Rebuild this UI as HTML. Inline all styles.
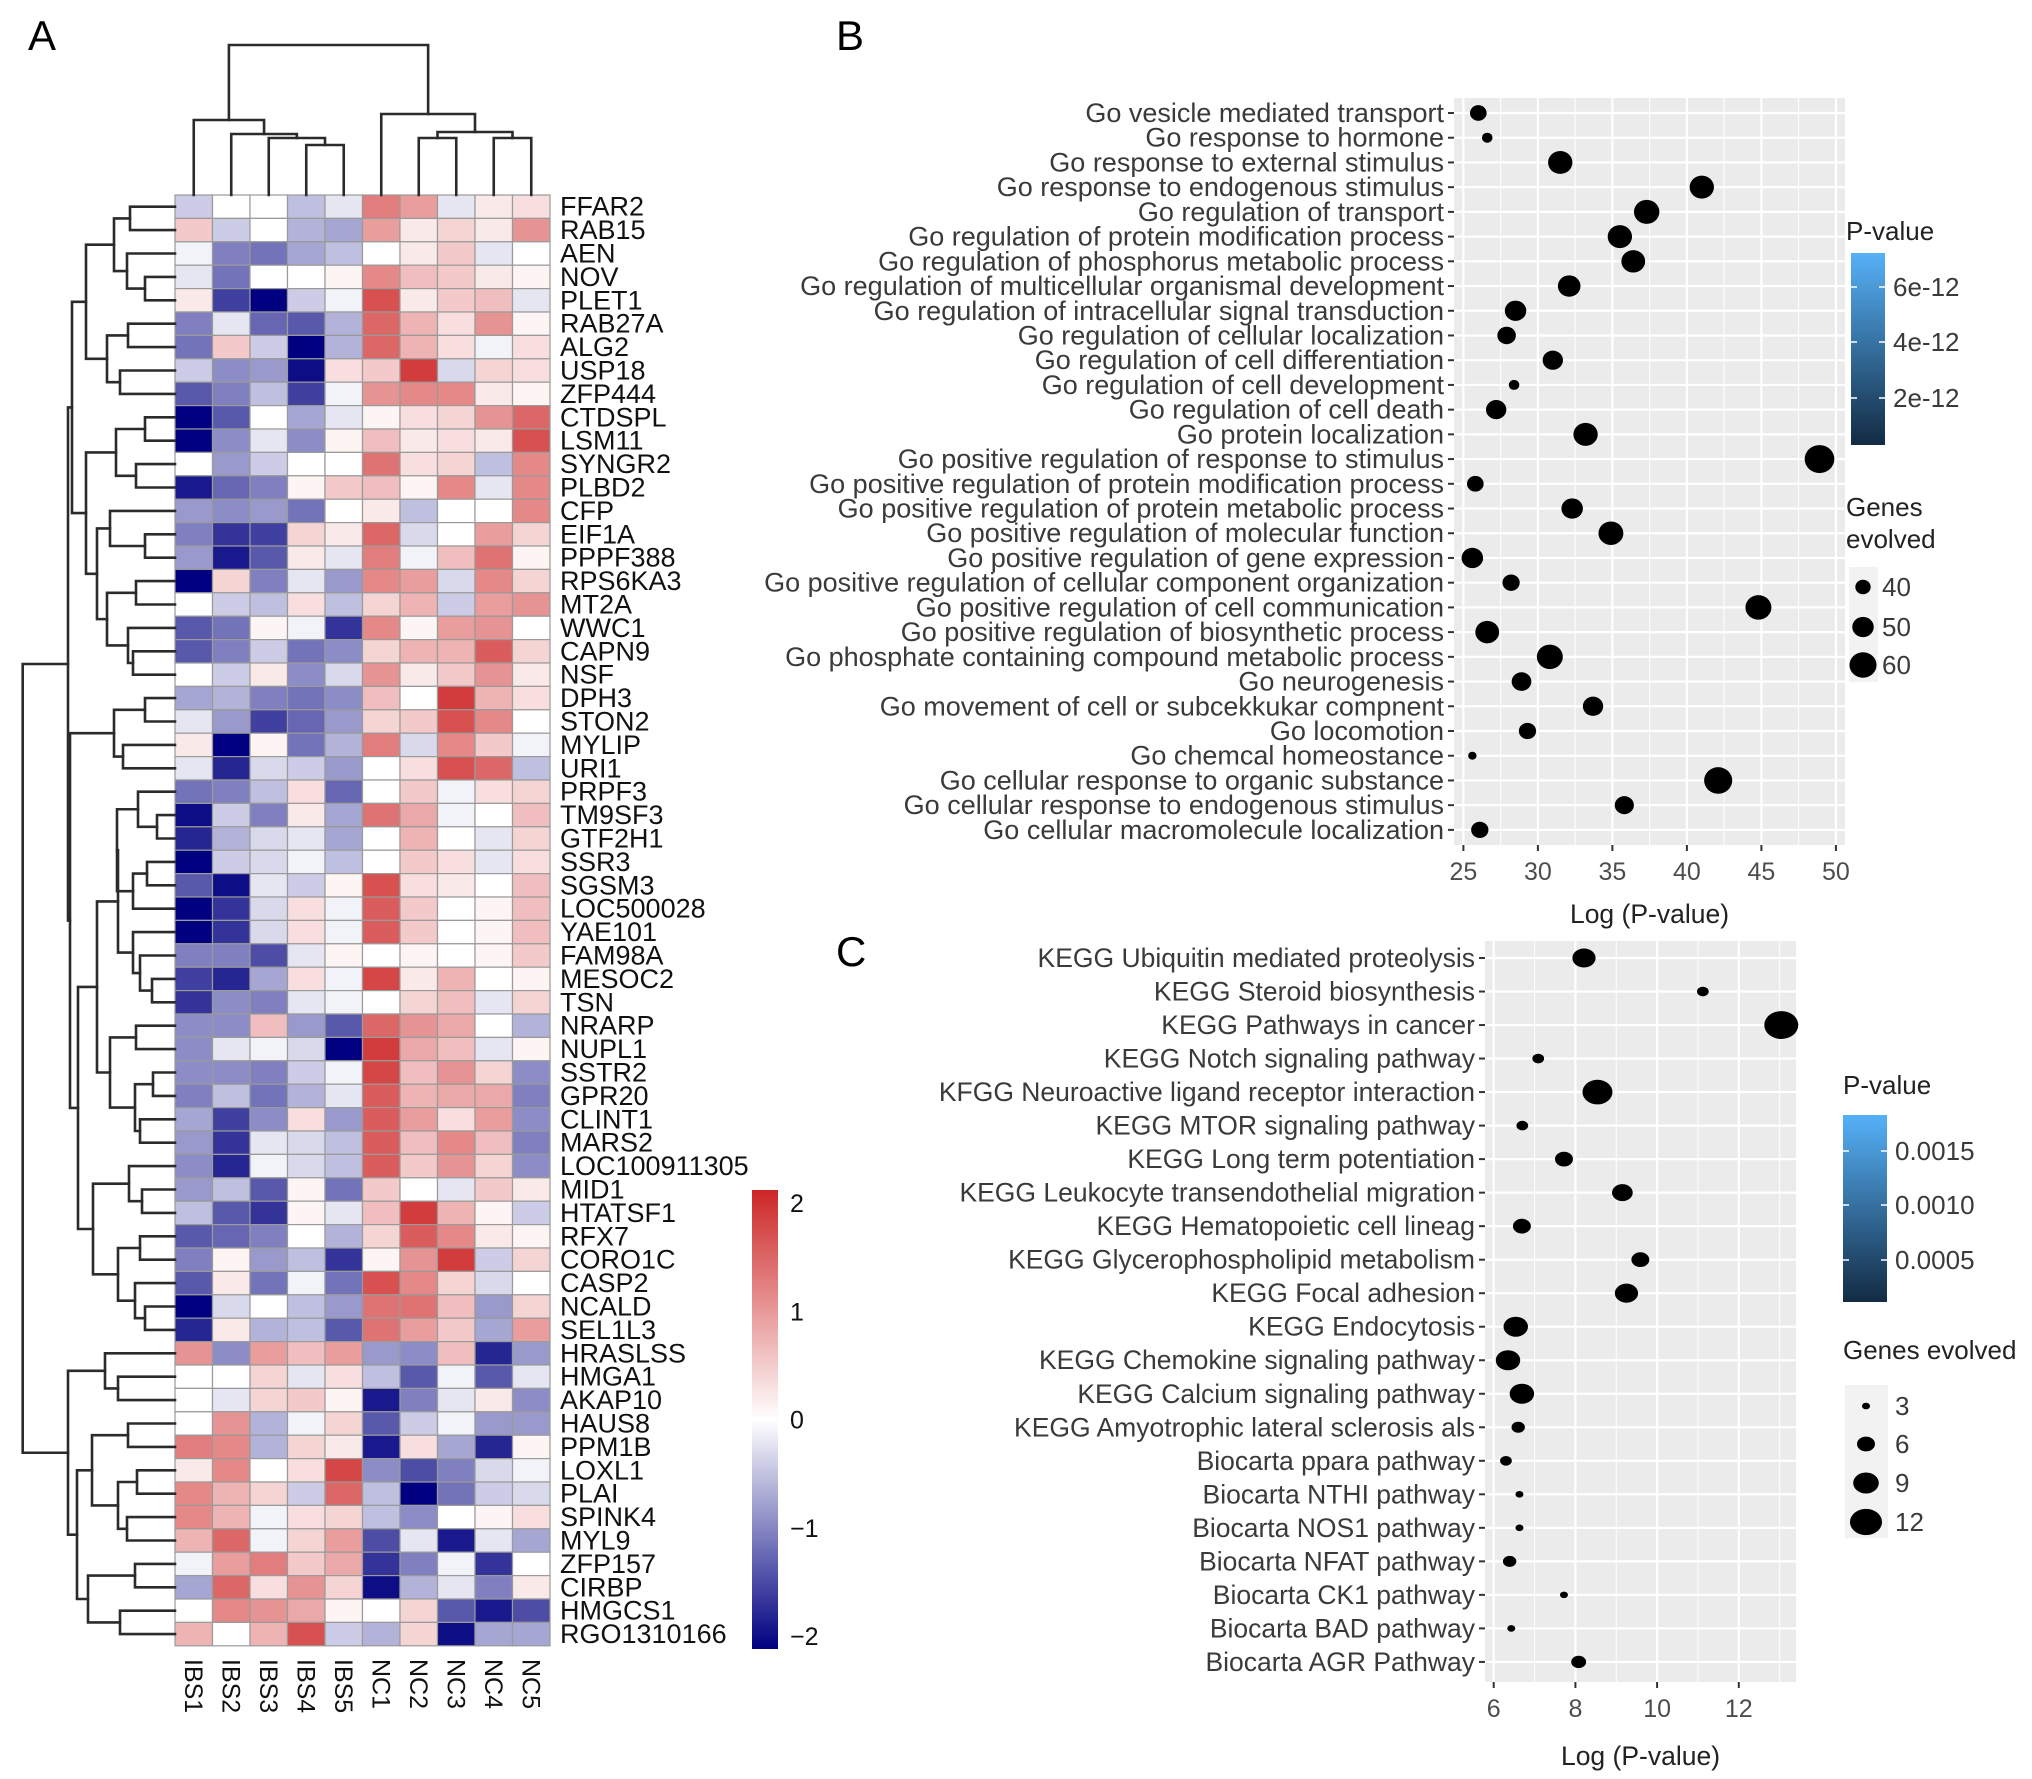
<!DOCTYPE html>
<html><head><meta charset="utf-8"><title>Heatmap and enrichment plots</title>
<style>
html,body{margin:0;padding:0;background:#fff;}
svg{display:block;font-family:"Liberation Sans",Arial,sans-serif;}
</style></head>
<body>
<svg id="fig" width="2032" height="1779" viewBox="0 0 2032 1779" xmlns="http://www.w3.org/2000/svg">
<defs>
<linearGradient id="hmGrad" x1="0" y1="0" x2="0" y2="1">
<stop offset="0" stop-color="#CD2626"/><stop offset="0.5" stop-color="#ffffff"/><stop offset="1" stop-color="#000080"/>
</linearGradient>
<linearGradient id="pvGrad" x1="0" y1="1" x2="0" y2="0">
<stop offset="0" stop-color="#132B43"/><stop offset="1" stop-color="#56B1F7"/>
</linearGradient>
</defs>
<text x="28" y="50" font-size="42">A</text>
<text x="836" y="50" font-size="42">B</text>
<text x="836" y="966" font-size="42">C</text>
<g id="heat"></g>
<g id="panelB"></g>
<g id="panelC"></g>
</svg>
<script>
// ---------- Heatmap data ----------
const samples = ["IBS1","IBS2","IBS3","IBS4","IBS5","NC1","NC2","NC3","NC4","NC5"];
const genes = ["FFAR2","RAB15","AEN","NOV","PLET1","RAB27A","ALG2","USP18","ZFP444","CTDSPL","LSM11","SYNGR2","PLBD2","CFP","EIF1A","PPPF388","RPS6KA3","MT2A","WWC1","CAPN9","NSF","DPH3","STON2","MYLIP","URI1","PRPF3","TM9SF3","GTF2H1","SSR3","SGSM3","LOC500028","YAE101","FAM98A","MESOC2","TSN","NRARP","NUPL1","SSTR2","GPR20","CLINT1","MARS2","LOC100911305","MID1","HTATSF1","RFX7","CORO1C","CASP2","NCALD","SEL1L3","HRASLSS","HMGA1","AKAP10","HAUS8","PPM1B","LOXL1","PLAI","SPINK4","MYL9","ZFP157","CIRBP","HMGCS1","RGO1310166"];
const exprValues = [
[-0.4,0,0,-0.5,-0.2,1.2,0.9,-0.2,0.2,0.3],
[0.5,-0.4,0,-0.6,-0.7,0.9,0.2,0.4,0.2,1.0],
[-0.1,-1.0,-1.1,-0.7,-0.5,0,0.2,0.5,-0.2,0],
[-0.2,-1.1,0,0,0.1,1.1,0.6,0.5,0.2,0.1],
[0.2,-1.5,-2.0,-0.4,-0.1,1.6,0.2,0.5,0.6,-0.2],
[-1.0,-0.2,-1.2,-1.3,-0.6,1.4,0.7,0.3,1.0,0.1],
[-1.1,0.5,-0.4,-2.1,-0.6,1.4,0.7,0.3,-0.1,0.3],
[-0.4,-0.9,-0.8,-1.9,0.3,0.5,1.8,-0.3,0.4,0.3],
[-1.3,-1.0,-0.5,-1.5,-0.1,1.0,1.1,1.1,0.2,0.1],
[-2.0,-1.3,0,-0.7,-0.2,0.1,0.3,0.4,1.0,1.4],
[-2.0,-0.9,-0.2,-0.9,0.1,0.6,0.2,0.3,0.2,1.6],
[0,-0.8,-0.4,0,0,1.3,0.3,0.4,-0.5,1.1],
[-1.8,-1.2,-1.0,0.1,0.5,0.6,0.1,1.1,-0.2,1.1],
[-0.8,-0.9,-0.8,-1.1,0,0.2,-0.5,0,0,1.1],
[-1.0,-1.6,-1.5,0.4,0.2,1.4,-0.3,0,0.9,0.4],
[-0.8,-1.8,-1.3,0.2,-0.2,1.2,-0.1,0.6,1.3,0.1],
[-2.2,0.4,-1.0,-0.2,-0.8,1.1,0.9,-0.3,1.1,0.4],
[0,-0.4,-0.5,0.3,-0.5,0.4,0.7,-0.4,0.9,1.0],
[-1.3,-1.1,0.1,-0.1,-1.6,1.1,0.1,0.9,1.0,0],
[-1.3,-1.0,-0.4,-1.1,-0.9,0.4,0.7,0.7,1.5,0.4],
[0,-0.4,0.2,-0.9,-0.3,1.0,0.2,0.5,1.0,0.2],
[-0.7,-0.6,-1.0,-1.1,-0.9,0.6,0,1.8,0.7,0.3],
[-0.2,-0.8,-1.5,-1.2,-0.8,0.4,0.5,1.6,1.1,0],
[0.2,-2.2,0.1,-1.1,-0.6,1.2,-0.3,1.1,0.5,-0.1],
[-0.2,-1.7,-0.3,-0.4,-0.8,0,0.3,1.6,1.4,-0.5],
[-1.1,-1.0,-0.5,0.3,-1.2,0,0.5,-0.1,0.3,0.4],
[-1.9,-0.4,-1.0,0.2,-0.7,1.3,0.8,-0.1,0,0.6],
[-1.7,-0.6,-0.3,-0.2,-0.7,0,0.7,0,-0.2,0.4],
[-2.2,-0.4,-0.3,-0.1,-0.5,0,0.5,0.3,-0.2,0.3],
[-1.3,-1.9,-0.2,-0.4,0.1,1.6,0.3,0.2,0,0.6],
[-2.0,-1.6,-0.3,0.3,-0.1,1.5,0.5,0,0.1,0.6],
[-2.0,-1.6,-0.3,0.3,-0.1,1.5,0.5,0,0.1,0.6],
[-1.0,-1.0,-1.4,-0.2,0.1,0,0.1,0,0.1,0.5],
[-1.5,-1.7,-0.7,0.3,-0.1,1.7,0.2,0.7,0,0.1],
[-1.6,-0.9,-1.0,-0.2,-0.1,0,0.4,0.6,-0.2,0.4],
[-0.9,-0.9,0.6,-0.8,-1.3,1.4,1.0,0.8,0,-0.6],
[-0.9,-0.2,-0.1,-0.3,-2.2,1.8,0.8,0.6,-0.2,0.1],
[-0.9,-0.9,-1.0,-0.4,-0.1,1.7,0.6,1.0,0.4,-0.9],
[-1.0,-0.5,-1.1,-0.6,-0.2,1.5,0.7,0.8,0.8,-1.0],
[-0.7,-1.5,-0.9,0.3,-0.8,1.5,0.9,0.3,0.9,-0.9],
[-0.8,-1.6,-0.2,-0.3,-0.5,1.5,0.6,1.1,0.6,-1.0],
[-0.9,-1.7,-0.1,-0.3,-0.5,1.5,0.5,1.0,0.4,-0.9],
[-0.8,-0.5,-1.3,0.1,-1.1,0.5,0,-0.2,0.5,0.2],
[-0.5,-1.3,-1.6,0.1,-0.2,0.6,1.8,0.7,0.1,-0.4],
[-1.3,-1.2,-1.0,0,-0.6,0.4,1.5,1.1,0.2,0.1],
[-1.0,0.1,-0.8,-0.5,-1.6,0.1,1.0,1.8,-0.4,0.4],
[-1.3,0.2,-1.1,-0.1,-1.1,1.6,1.1,0.4,-0.3,0],
[-2.2,-0.3,0,-0.5,-0.8,1.3,1.3,0.6,-0.8,0.4],
[-1.7,0.2,-0.6,-0.5,-1.3,1.3,0.9,0.5,-0.7,0.9],
[1.0,-0.9,0.9,0.6,0.9,-0.8,-0.9,0.6,-1.7,-0.8],
[0,0,0.4,-0.2,0.3,-0.5,-1.3,-0.1,-1.3,-0.2],
[0,-0.2,0.4,0.5,0.1,-1.8,-1.0,-0.2,0.2,-0.9],
[0,1.0,-0.6,-0.1,0.4,-1.3,-0.4,-0.1,-0.8,-0.8],
[1.2,1.1,-0.6,0.4,0.2,-1.8,0.3,-0.7,-1.7,0.1],
[0.2,1.1,0,0.3,1.7,-0.9,-1.4,-1.0,-0.3,-0.1],
[1.1,0.7,0.4,-0.4,1.4,-0.5,-2.0,-1.1,-0.4,-0.3],
[1.1,0.7,-0.1,0.3,0.4,-0.5,-0.9,0,0.1,0.3],
[0.7,1.4,-0.1,0.4,0.9,-1.4,-0.2,-1.8,-0.2,-0.7],
[-0.1,0.9,1.2,0.5,0.8,-1.6,-1.0,-0.1,-1.6,0],
[-0.7,1.4,0.3,1.0,0.4,-1.9,-0.6,-0.2,-1.0,0.2],
[0,1.1,1.0,0.8,0.1,0,0.4,-1.3,-1.8,-1.4],
[0.7,0,0.7,1.6,-0.4,-0.6,0.4,-1.9,-0.7,-0.7]
];
const colorTicks = [2,1,0,-1,-2];
// dendrogram merge trees: [left, right, pixel-level of merge]
const colTree = [[0,[1,[2,[3,4,145],138],134],120],[5,[[6,7,138],[8,9,138],132],114],45];
const rowTree = (function(){
  const A=[[0,1,130],[2,[3,4,145],127],114], B=[[5,6,128],[7,8,120],107], C1=[A,B,86];
  const D=[[9,10,145],[11,12,136],116], E=[13,[14,15,145],110];
  const F=[[16,17,136],[18,[19,20,133],128],107], H=[D,[E,F,97],86], U1=[C1,H,72];
  const X1=[[21,22,145],[23,24,123],114];
  const Y1=[[25,[26,27,157],138],[[28,29,147],30,133],117], Y2=[31,[32,[33,34,152],140],133];
  const Z=[[35,36,136],[[37,38,153],[39,40,140],135],110], YZ=[[Y1,Y2,118],Z,97];
  const W=[[41,[42,43,142],129],[[44,45,140],[46,[47,48,145],135],118],93];
  const X=[X1,[YZ,W,78],70], Upper=[U1,X,68];
  const L=[[49,[50,51,118],105],[[[52,53,128],[[54,55,137],[56,57,127],118],92],[[58,59,135],[60,61,120],88],77],68];
  return [Upper,L,22.7];
})();

// ---------- GO data ----------
const goTerms = ["Go vesicle mediated transport","Go response to hormone","Go response to external stimulus","Go response to endogenous stimulus","Go regulation of transport","Go regulation of protein modification process","Go regulation of phosphorus metabolic process","Go regulation of multicellular organismal development","Go regulation of intracellular signal transduction","Go regulation of cellular localization","Go regulation of cell differentiation","Go regulation of cell development","Go regulation of cell death","Go protein localization","Go positive regulation of response to stimulus","Go positive regulation of protein modification process","Go positive regulation of protein metabolic process","Go positive regulation of molecular function","Go positive regulation of gene expression","Go positive regulation of cellular component organization","Go positive regulation of cell communication","Go positive regulation of biosynthetic process","Go phosphate containing compound metabolic process","Go neurogenesis","Go movement of cell or subcekkukar compnent","Go locomotion","Go chemcal homeostance","Go cellular response to organic substance","Go cellular response to endogenous stimulus","Go cellular macromolecule localization"];
const goLogP = [26.0,26.6,31.5,41.0,37.3,35.5,36.4,32.1,28.5,27.9,31.0,28.4,27.2,33.2,48.9,25.8,32.3,34.9,25.6,28.2,44.8,26.6,30.8,28.9,33.7,29.3,25.6,42.1,35.8,26.1];
const goGenes = [42,33,55,55,57,55,54,52,50,45,48,33,48,55,65,42,50,56,50,43,58,54,58,47,48,43,30,62,46,43];
const goXTicks = [25,30,35,40,45,50];
const goSizeLegend = [40,50,60];
const goPvTicks = ["6e-12","4e-12","2e-12"];

// ---------- KEGG data ----------
const keggTerms = ["KEGG Ubiquitin mediated proteolysis","KEGG Steroid biosynthesis","KEGG Pathways in cancer","KEGG Notch signaling pathway","KFGG Neuroactive ligand receptor interaction","KEGG MTOR signaling pathway","KEGG Long term potentiation","KEGG Leukocyte transendothelial migration","KEGG Hematopoietic cell lineag","KEGG Glycerophospholipid metabolism","KEGG Focal adhesion","KEGG Endocytosis","KEGG Chemokine signaling pathway","KEGG Calcium signaling pathway","KEGG Amyotrophic lateral sclerosis als","Biocarta ppara pathway","Biocarta NTHI pathway","Biocarta NOS1 pathway","Biocarta NFAT pathway","Biocarta CK1 pathway","Biocarta BAD pathway","Biocarta AGR Pathway"];
const keggLogP = [8.21,11.12,13.04,7.09,8.54,6.70,7.72,9.15,6.69,9.59,9.25,6.54,6.35,6.69,6.60,6.30,6.63,6.63,6.39,7.72,6.43,8.08];
const keggGenes = [8,4,13,4,11,4,6,7,6,6,8,8.5,8.5,8.5,4.5,4,3,3,4.5,3,3,5];
const keggXTicks = [6,8,10,12];
const keggSizeLegend = [3,6,9,12];
const keggPvTicks = ["0.0015","0.0010","0.0005"];

const NS = "http://www.w3.org/2000/svg";
function mk(tag, attrs, parent){
  const e = document.createElementNS(NS, tag);
  for (const k in attrs) e.setAttribute(k, attrs[k]);
  parent.appendChild(e);
  return e;
}

// ---------- Heatmap ----------
(function(){
  const g = document.getElementById('heat');
  const x0 = 175, y0 = 195, cw = 37.5, rh = 23.4;
  const colX = i => x0 + cw * i;
  const rowY = i => y0 + rh * i;
  function col(v){
    v = Math.max(-2, Math.min(2, v));
    let r,gg,b;
    if (v >= 0){ const t = v/2; r = 255+(205-255)*t; gg = 255+(38-255)*t; b = 255+(38-255)*t; }
    else { const t = -v/2; r = 255*(1-t); gg = 255*(1-t); b = 255+(128-255)*t; }
    return `rgb(${Math.round(r)},${Math.round(gg)},${Math.round(b)})`;
  }
  exprValues.forEach((row, i) => {
    row.forEach((v, j) => {
      const c = mk('rect', {x: colX(j), y: rowY(i), width: cw, height: rh, fill: col(v), stroke: '#9a9a9a', 'stroke-width': 1.2}, g);
      
      
    });
  });
  genes.forEach((name, i) => {
    const t = mk('text', {x: 560, y: rowY(i) + rh/2 + 9, 'font-size': 27, fill: '#111'}, g);
    t.textContent = name;
    
    
  });
  samples.forEach((name, j) => {
    const cx = colX(j) + cw/2;
    const t = mk('text', {x: cx - 9, y: 1659, 'font-size': 25, fill: '#111', transform: `rotate(90 ${cx-9} 1659)`}, g);
    t.textContent = name;
    
    
  });
  const dg = mk('g', {stroke: '#2b2b2b', 'stroke-width': 2.6, fill: 'none', 'stroke-linecap': 'square'}, g);
  
  
  function drawRow(node){
    if (typeof node === 'number') return {y: rowY(node) + rh/2, x: x0};
    const a = drawRow(node[0]), b = drawRow(node[1]), h = node[2];
    const p = mk('path', {d: `M${a.x},${a.y}H${h}V${b.y}H${b.x}`}, dg);
    
    
    return {y: (a.y + b.y)/2, x: h};
  }
  drawRow(rowTree);
  function drawCol(node){
    if (typeof node === 'number') return {x: colX(node) + cw/2, y: y0};
    const a = drawCol(node[0]), b = drawCol(node[1]), h = node[2];
    const p = mk('path', {d: `M${a.x},${a.y}V${h}H${b.x}V${b.y}`}, dg);
    
    
    return {x: (a.x + b.x)/2, y: h};
  }
  drawCol(colTree);
  const cy = v => 1419.5 - v * 108.25;
  const bar = mk('rect', {x: 752, y: cy(2.12), width: 26, height: cy(-2.12) - cy(2.12), fill: 'url(#hmGrad)'}, g);
  
  
  colorTicks.forEach(v => {
    const t = mk('text', {x: 790, y: cy(v) + 9, 'font-size': 25, fill: '#111'}, g);
    t.textContent = v < 0 ? '\u2212' + (-v) : String(v);
    
    
  });
})();

// ---------- Dot plot helper ----------
function dotPlot(cfg){
  const g = document.getElementById(cfg.id);
  const bg = mk('rect', {x: cfg.bx0, y: cfg.by0, width: cfg.bx1 - cfg.bx0, height: cfg.by1 - cfg.by0, fill: '#EBEBEB'}, g);
  
  
  for (let k = 0; k < cfg.ticks.length + 1; k++){
    const v = cfg.ticks[0] - cfg.step/2 + k*cfg.step;
    const xv = cfg.x(v);
    if (xv > cfg.bx0 && xv < cfg.bx1){
      const l = mk('line', {x1: xv, x2: xv, y1: cfg.by0, y2: cfg.by1, stroke: '#fff', 'stroke-width': 1}, g);
      
      
    }
  }
  cfg.ticks.forEach(v => {
    const xv = cfg.x(v);
    if (xv <= cfg.bx1){
      const l = mk('line', {x1: xv, x2: xv, y1: cfg.by0, y2: cfg.by1, stroke: '#fff', 'stroke-width': 2.2}, g);
      
      
    }
    const tk = mk('line', {x1: xv, x2: xv, y1: cfg.by1, y2: cfg.by1 + 6, stroke: '#333', 'stroke-width': 2}, g);
    
    
    const t = mk('text', {x: xv, y: cfg.by1 + 35, 'font-size': 25, fill: '#4D4D4D', 'text-anchor': 'middle'}, g);
    t.textContent = v;
    
    
  });
  cfg.terms.forEach((term, i) => {
    const yv = cfg.y(i);
    const l = mk('line', {x1: cfg.bx0, x2: cfg.bx1, y1: yv, y2: yv, stroke: '#fff', 'stroke-width': 2.2}, g);
    
    
    const tk = mk('line', {x1: cfg.bx0 - 6, x2: cfg.bx0, y1: yv, y2: yv, stroke: '#333', 'stroke-width': 2}, g);
    
    
    const t = mk('text', {x: cfg.bx0 - 10, y: yv + 9, 'font-size': cfg.fs, fill: '#3a3a3a', 'text-anchor': 'end'}, g);
    t.textContent = term;
    
    
  });
  cfg.terms.forEach((term, i) => {
    const d = cfg.size(cfg.genes[i]);
    const e = mk('ellipse', {cx: cfg.x(cfg.vals[i]), cy: cfg.y(i), rx: d/2*cfg.wr, ry: d/2*cfg.hr, fill: '#000'}, g);
    
    
  });
  const at = mk('text', {x: (cfg.bx0 + cfg.bx1)/2, y: cfg.titleY, 'font-size': 26.5, fill: '#222', 'text-anchor': 'middle'}, g);
  at.textContent = 'Log (P-value)';
  
  
  const L = cfg.leg;
  const pt = mk('text', {x: L.x, y: L.titleY, 'font-size': 26, fill: '#222'}, g);
  pt.textContent = 'P-value';
  
  
  const cb = mk('rect', {x: L.bx, y: L.by0, width: L.bw, height: L.by1 - L.by0, fill: 'url(#pvGrad)'}, g);
  
  
  L.labels.forEach((lab, k) => {
    const yy = L.ly[k];
    mk('line', {x1: L.bx, x2: L.bx + 6, y1: yy, y2: yy, stroke: '#fff', 'stroke-width': 1.5}, g);
    mk('line', {x1: L.bx + L.bw - 6, x2: L.bx + L.bw, y1: yy, y2: yy, stroke: '#fff', 'stroke-width': 1.5}, g);
    const t = mk('text', {x: L.bx + L.bw + 8, y: yy + 9, 'font-size': 26, fill: '#3a3a3a'}, g);
    t.textContent = lab;
    
    
  });
  L.sizeTitle.forEach((s, k) => {
    const t = mk('text', {x: L.x, y: L.sizeTitleY + k*32, 'font-size': 26, fill: '#222'}, g);
    t.textContent = s;
    
    
  });
  const kb = mk('rect', {x: L.kx0, y: L.ky0, width: L.kx1 - L.kx0, height: L.ky1 - L.ky0, fill: '#F2F2F2'}, g);
  
  
  cfg.sizeLegend.forEach((v, k) => {
    const d = cfg.size(v);
    const e = mk('ellipse', {cx: L.keyX, cy: L.keyY[k], rx: d/2*cfg.wr, ry: d/2*cfg.hr, fill: '#000'}, g);
    
    
    const t = mk('text', {x: L.keyLabelX, y: L.keyY[k] + 9, 'font-size': 26, fill: '#3a3a3a'}, g);
    t.textContent = v;
    
    
  });
}

dotPlot({
  id: 'panelB', terms: goTerms, vals: goLogP, genes: goGenes, ticks: goXTicks, step: 5, fs: 27,
  sizeLegend: goSizeLegend,
  x: v => 1463.4 + (v - 25) * 14.9, y: i => 113 + i * 24.72,
  size: g => 7.75 * Math.sqrt(g) - 34.5, wr: 1.06, hr: 1.0,
  bx0: 1454, bx1: 1845, by0: 98, by1: 845, titleY: 923,
  leg: {x: 1846, titleY: 240, bx: 1851, bw: 34, by0: 253, by1: 445, labels: goPvTicks, ly: [287, 342, 398],
        sizeTitle: ['Genes', 'evolved'], sizeTitleY: 516,
        kx0: 1849, kx1: 1878, ky0: 567, ky1: 682, keyX: 1863, keyY: [587, 627, 665], keyLabelX: 1882}
});

dotPlot({
  id: 'panelC', terms: keggTerms, vals: keggLogP, genes: keggGenes, ticks: keggXTicks, step: 2, fs: 26.5,
  sizeLegend: keggSizeLegend,
  x: v => 1493.7 + (v - 6) * 40.85, y: i => 958 + i * 33.52,
  size: g => 13.87 * Math.sqrt(g) - 16, wr: 1.0, hr: 0.82,
  bx0: 1485, bx1: 1796, by0: 941, by1: 1682, titleY: 1765,
  leg: {x: 1843, titleY: 1094, bx: 1843, bw: 44, by0: 1115, by1: 1302, labels: keggPvTicks, ly: [1151, 1205, 1260],
        sizeTitle: ['Genes evolved'], sizeTitleY: 1359,
        kx0: 1845, kx1: 1888, ky0: 1385, ky1: 1538, keyX: 1866, keyY: [1406, 1444, 1483, 1522], keyLabelX: 1895}
});
</script>
</body></html>
